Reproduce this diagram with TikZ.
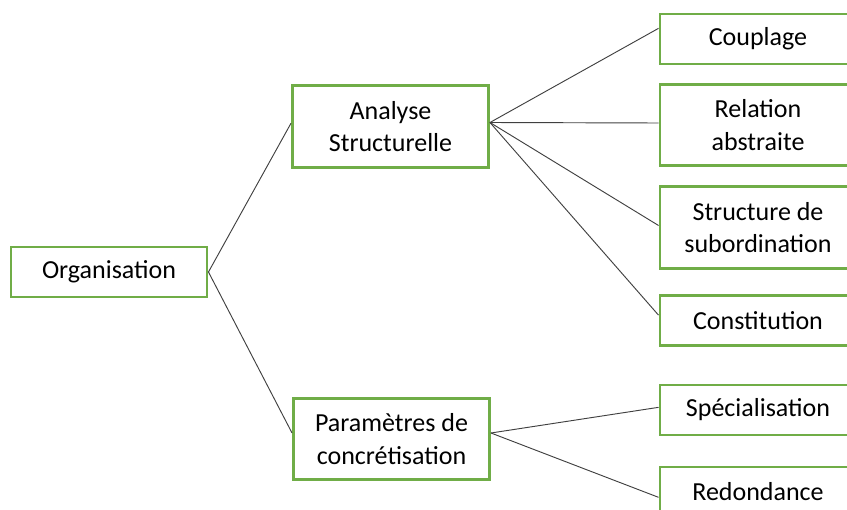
\documentclass[tikz,border=0pt]{standalone}
\usepackage{fontspec}
\setmainfont{Carlito}
\usetikzlibrary{shapes.geometric, arrows}

\definecolor{boxgreen}{HTML}{70AD47}
\definecolor{linegray}{HTML}{404040}

\begin{document}
\begin{tikzpicture}[x=0.75pt, y=-0.75pt, >=stealth]

    % Define the styles for the nodes
    \tikzstyle{block} = [rectangle, draw=boxgreen, line width=2.2pt, fill=white, align=center, text centered, minimum width=147pt, minimum height=37.5pt, inner sep=0pt, font=\fontsize{19.5}{24.5}\selectfont]
    \tikzstyle{tallblock} = [block, minimum height=61pt]
    \tikzstyle{link} = [draw=linegray, line width=0.7pt]

    \useasboundingbox (0,0) rectangle (847,510);
    \clip (0,0) rectangle (847,510);

    % Nodes
    \node (org) [block] at (109,272) {Organisation};
    \node (analyse) [tallblock] at (390.5,126.5) {Analyse\\Structurelle};
    \node (param) [tallblock] at (391.5,439) {Paramètres de\\concrétisation};

    \node (couplage) [block] at (758,39) {Couplage};
    \node (relation) [tallblock] at (758,125) {Relation\\abstraite};
    \node (structure) [tallblock] at (758,227.5) {Structure de\\subordination};
    \node (constitution) [block] at (758,320.5) {Constitution};
    \node (special) [block] at (758,410) {Spécialisation};
    \node (redond) [block] at (758,492) {Redondance};

    % Lines
    \draw[link] (org.east) -- ([yshift=2.5pt]analyse.west);
    \draw[link] (org.east) -- ([yshift=4.5pt]param.west);

    \draw[link] ([yshift=3pt]analyse.east) -- ([yshift=8pt]couplage.west);
    \draw[link] ([yshift=3pt]analyse.east) -- ([yshift=1.5pt]relation.west);
    \draw[link] ([yshift=3pt]analyse.east) -- ([yshift=1.5pt]structure.west);
    \draw[link] ([yshift=3pt]analyse.east) -- ([yshift=4pt]constitution.west);

    \draw[link] ([yshift=4.5pt]param.east) -- ([yshift=2pt]special.west);
    \draw[link] ([yshift=4.5pt]param.east) -- ([yshift=-4pt]redond.west);

\end{tikzpicture}
\end{document}
